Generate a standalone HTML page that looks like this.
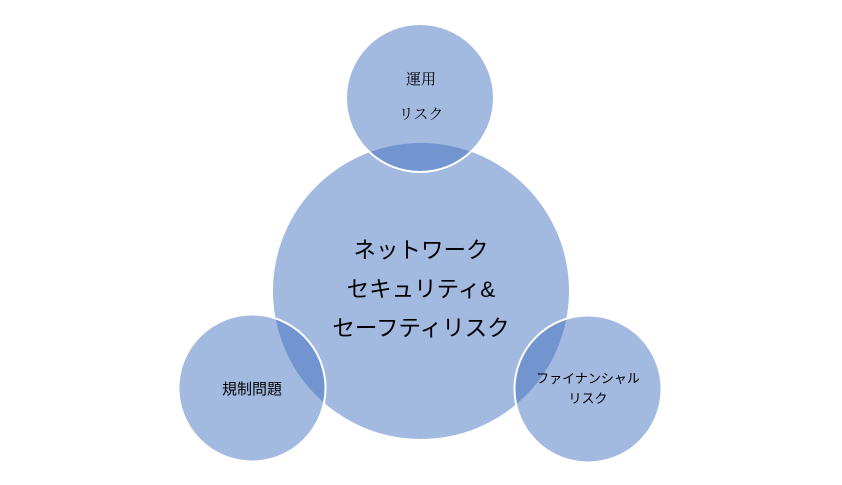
<!DOCTYPE html>
<html><head><meta charset="utf-8"><style>
html,body{margin:0;padding:0;background:#fff;width:842px;height:485px;overflow:hidden}
</style></head><body>
<svg width="842" height="485" viewBox="0 0 842 485" xmlns="http://www.w3.org/2000/svg">
<defs><clipPath id="big"><circle cx="421" cy="291" r="148"/></clipPath></defs>
<circle cx="421" cy="291" r="148" fill="#a2b9e0"/>
<g fill="#a2b9e0">
<circle cx="420" cy="98" r="74"/>
<circle cx="252" cy="388" r="73.5"/>
<circle cx="588" cy="389" r="73.5"/>
</g>
<g fill="#7295d0" clip-path="url(#big)">
<circle cx="420" cy="98" r="74"/>
<circle cx="252" cy="388" r="73.5"/>
<circle cx="588" cy="389" r="73.5"/>
</g>
<g fill="none" stroke="#fff" stroke-width="2">
<circle cx="420" cy="98" r="74"/>
<circle cx="252" cy="388" r="73.5"/>
<circle cx="588" cy="389" r="73.5"/>
</g>
<g font-family="'Liberation Sans','Noto Sans CJK JP',sans-serif" fill="#000" text-anchor="middle">
<text x="421" y="258" font-size="22.5">ネットワーク</text>
<text x="421" y="297" font-size="22.5">セキュリティ&amp;</text>
<text x="421" y="336" font-size="22.5">セーフティリスク</text>
<text x="252" y="394" font-size="15">規制問題</text>
<text x="588" y="383" font-size="13">ファイナンシャル</text>
<text x="588" y="403" font-size="13">リスク</text>
</g>
<g font-family="'Liberation Serif','Noto Serif CJK SC',serif" fill="#000" text-anchor="middle">
<text x="421" y="84" font-size="15">運用</text>
<text x="421" y="119" font-size="15">リスク</text>
</g>
</svg>
</body></html>
